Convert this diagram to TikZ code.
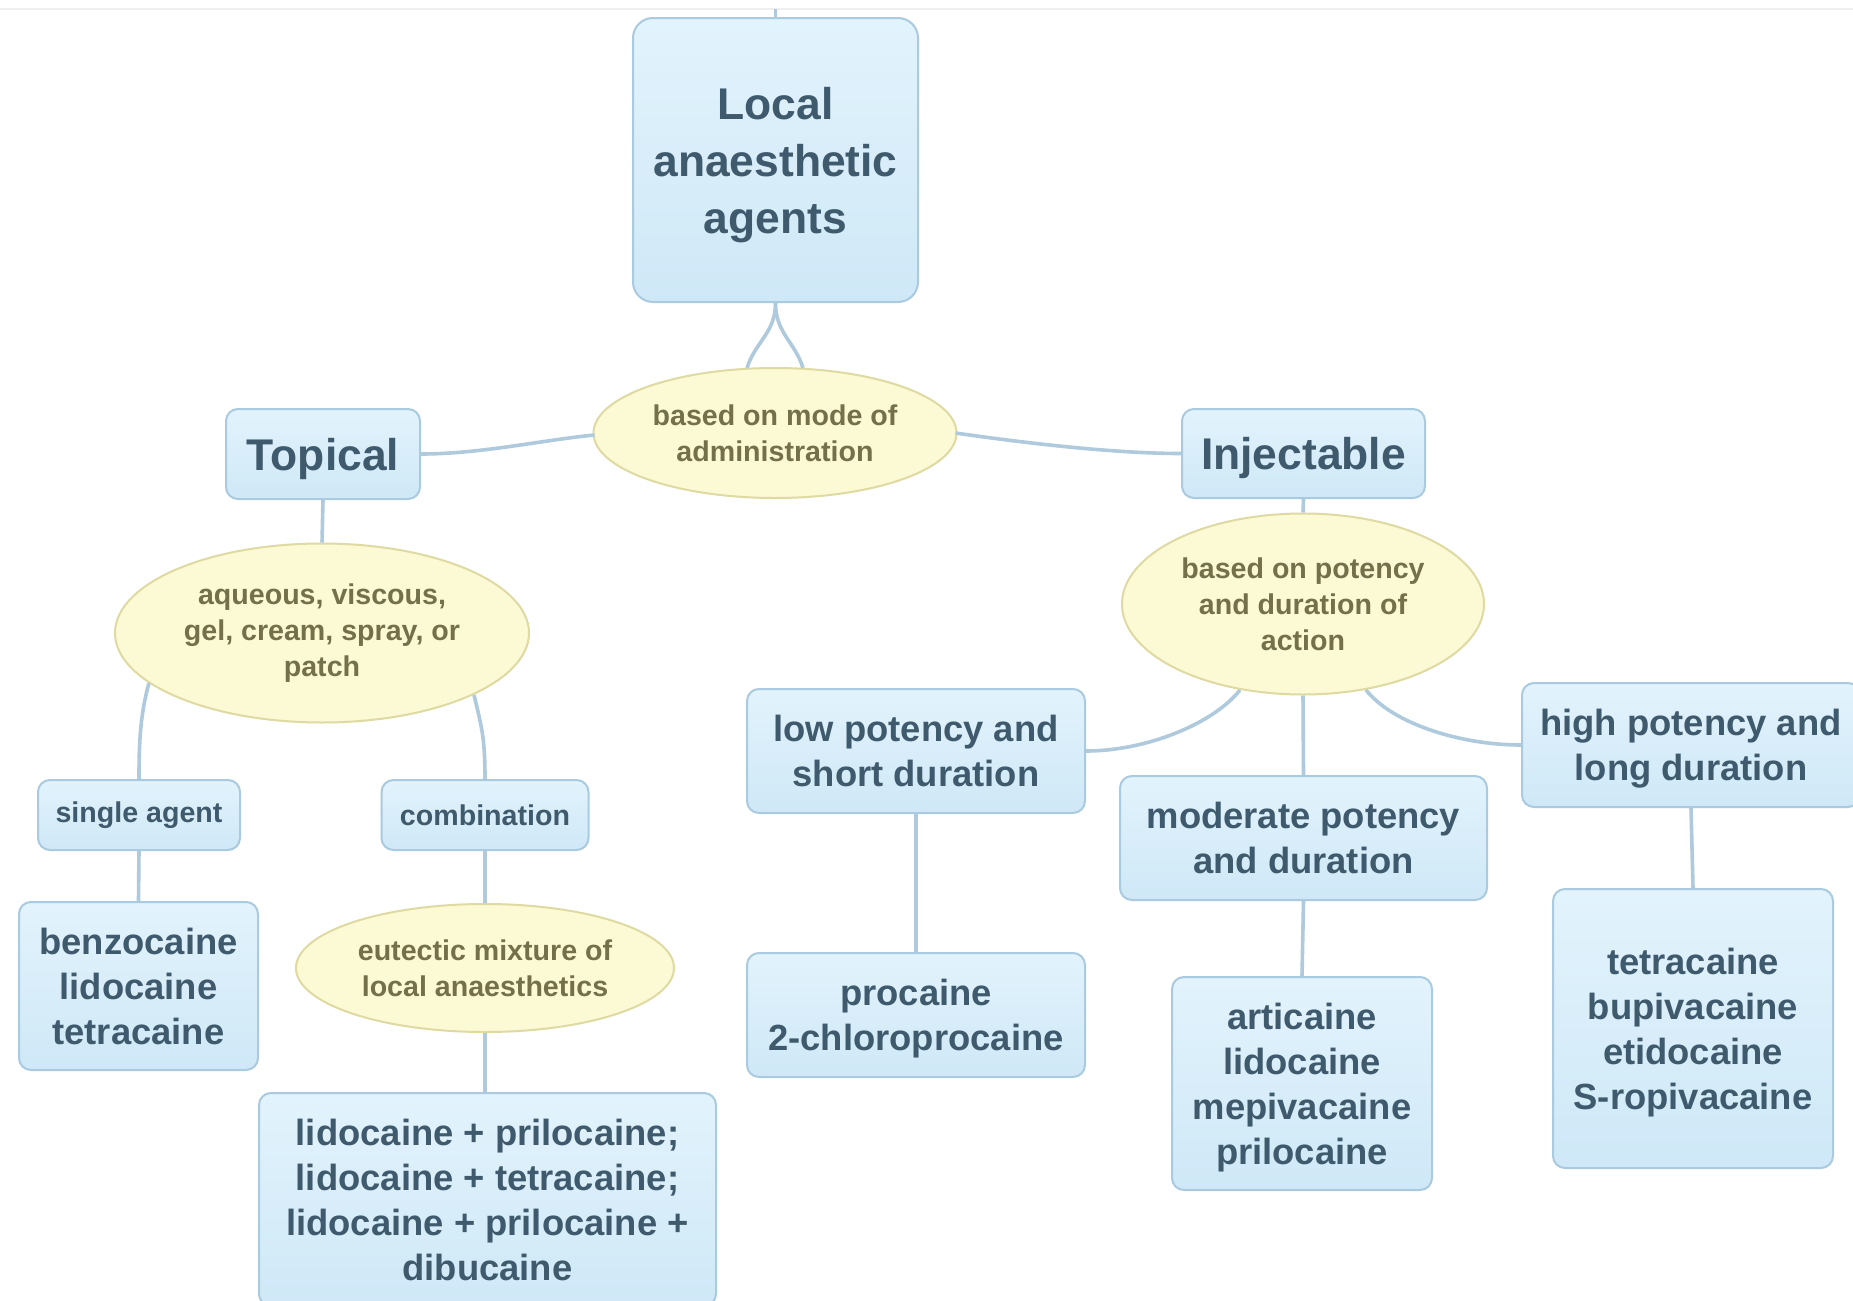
\documentclass[tikz,border=0pt]{standalone}
\usepackage{fontspec}
\setmainfont{Liberation Sans}
\usetikzlibrary{shapes.geometric,calc}
\definecolor{boxtop}{HTML}{E2F3FC}
\definecolor{boxbot}{HTML}{CFE8F7}
\definecolor{boxline}{HTML}{A9CADF}
\definecolor{boxtext}{HTML}{3F5A6C}
\definecolor{ovfill}{HTML}{FCF9D5}
\definecolor{ovline}{HTML}{DEDAA2}
\definecolor{ovtext}{HTML}{74714A}
\definecolor{linkc}{HTML}{AFCADD}
\definecolor{faint}{HTML}{EFEFEF}
\begin{document}
\begin{tikzpicture}[x=0.5pt,y=-0.5pt,
  box/.style={draw=boxline, line width=1pt, rounded corners=6pt, top color=boxtop, bottom color=boxbot, text=boxtext, align=center, inner sep=0pt},
  bigtxt/.style={font=\fontsize{22.2}{28.5}\selectfont\bfseries},
  midtxt/.style={font=\fontsize{18.2}{22.5}\selectfont\bfseries},
  smalltxt/.style={font=\fontsize{14.3}{18}\selectfont\bfseries},
  nodepth/.style={text depth=0pt},
  oval/.style={ellipse, draw=ovline, line width=1pt, fill=ovfill, text=ovtext, align=center, inner sep=0pt, smalltxt},
  link/.style={draw=linkc, line width=1.8pt},
  sz/.style 2 args={minimum width=#1*0.5pt, minimum height=#2*0.5pt}
]
\clip (0,0) rectangle (1853,1301);
\fill[white] (0,0) rectangle (1853,1301);
\draw[faint, line width=1pt] (0,9) -- (1853,9);

\node[box, bigtxt, nodepth, sz={285}{284}, rounded corners=10pt] (root) at (775.5,160) {Local\\anaesthetic\\agents};
\node[oval, sz={363}{130}] (mode) at (775,433) {based on mode of\\administration};
\node[box, bigtxt, nodepth, sz={194}{90}] (topical) at (323,454) {Topical};
\node[box, bigtxt, nodepth, sz={243}{89}] (inject) at (1303.5,453.5) {Injectable};
\node[oval, sz={414}{179}] (form) at (322,633) {aqueous, viscous,\\gel, cream, spray, or\\patch};
\node[box, smalltxt, sz={202}{70}] (single) at (139,815) {single agent};
\node[box, smalltxt, sz={207}{70}] (combo) at (485,815) {combination};
\node[box, midtxt, sz={239}{168}] (benzo) at (138.5,986) {benzocaine\\lidocaine\\tetracaine};
\node[oval, sz={378}{128}] (eutectic) at (485,968) {eutectic mixture of\\local anaesthetics};
\node[box, midtxt, sz={457}{213}] (mixes) at (487.5,1199.5) {lidocaine + prilocaine;\\lidocaine + tetracaine;\\lidocaine + prilocaine +\\dibucaine};
\node[oval, sz={362}{181}] (potency) at (1303,604) {based on potency\\and duration of\\action};
\node[box, midtxt, sz={338}{124}] (low) at (916,751) {low potency and\\short duration};
\node[box, midtxt, sz={367}{124}] (moderate) at (1303.5,838) {moderate potency\\and duration};
\node[box, midtxt, nodepth, sz={338}{124}] (high) at (1691,745) {high potency and\\long duration};
\node[box, midtxt, nodepth, sz={338}{124}] (procaine) at (916,1015) {procaine\\2-chloroprocaine};
\node[box, midtxt, nodepth, sz={260}{213}] (articaine) at (1302,1083.5) {articaine\\lidocaine\\mepivacaine\\prilocaine};
\node[box, midtxt, nodepth, sz={280}{279}] (tetra) at (1693,1028.5) {tetracaine\\bupivacaine\\etidocaine\\S-ropivacaine};

\coordinate (topend) at (775.5,9);
\draw[link] (topend) -- (root.north);
\draw[link] (root.south) .. controls ($(root.south)+(0,30)$) and ($(mode.north)+(-20,-25)$) .. ($(mode.north)+(-28,1)$);
\draw[link] (root.south) .. controls ($(root.south)+(0,30)$) and ($(mode.north)+(20,-25)$) .. ($(mode.north)+(28,1)$);
\draw[link] (topical.east) .. controls ($(topical.east)+(60,0)$) and ($(mode.west)+(-50,7)$) .. ($(mode.west)+(2,2)$);
\draw[link] ($(mode.east)+(-2,0)$) .. controls ($(mode.east)+(60,9)$) and ($(inject.west)+(-70,0)$) .. (inject.west);
\draw[link] (topical.south) -- (form.north);
\draw[link] ($(form.center)+(-173,50)$) .. controls ($(form.center)+(-182,82)$) and ($(single.north)+(0,-35)$) .. (single.north);
\draw[link] ($(form.center)+(152,62)$) .. controls ($(form.center)+(160,95)$) and ($(combo.north)+(0,-40)$) .. (combo.north);
\draw[link] (single.south) -- (benzo.north);
\draw[link] (combo.south) -- (eutectic.north);
\draw[link] (eutectic.south) -- (mixes.north -| eutectic.south);
\draw[link] (inject.south) -- (potency.north);
\draw[link] ($(potency.center)+(-63,86)$) .. controls ($(potency.center)+(-90,120)$) and ($(low.east)+(60,0)$) .. (low.east);
\draw[link] (potency.south) -- (moderate.north);
\draw[link] ($(potency.center)+(63,86)$) .. controls ($(potency.center)+(90,120)$) and ($(high.west)+(-60,0)$) .. (high.west);
\draw[link] (low.south) -- (procaine.north);
\draw[link] (moderate.south) -- (articaine.north);
\draw[link] (high.south) -- (tetra.north);
\end{tikzpicture}
\end{document}
